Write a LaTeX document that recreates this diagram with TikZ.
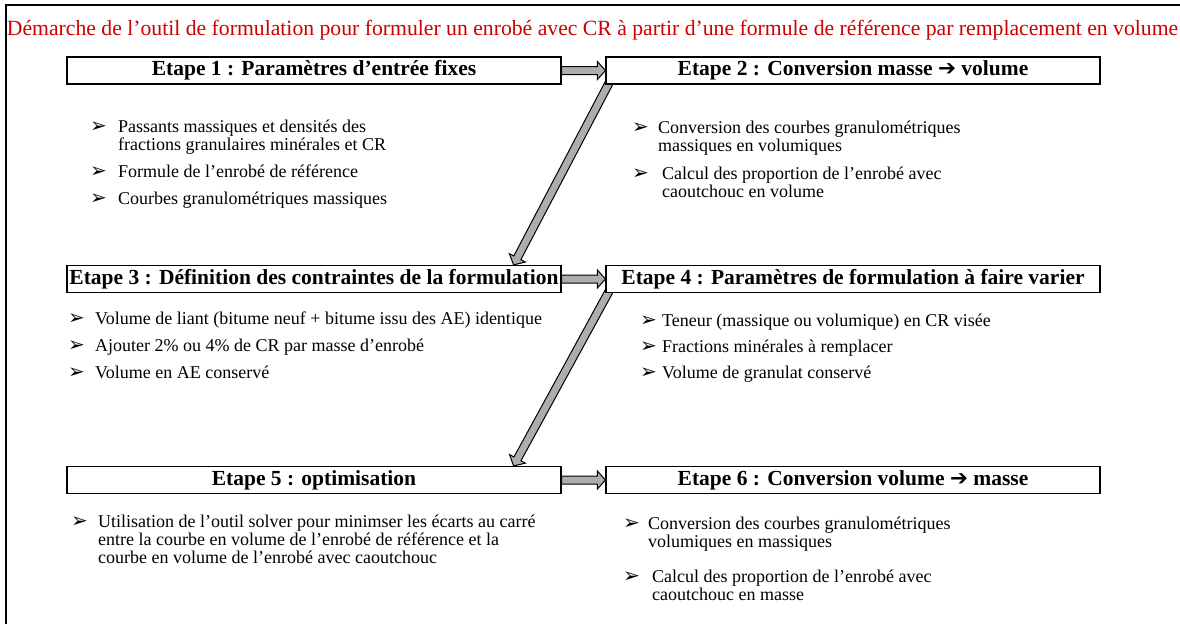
\documentclass[tikz,border=0pt]{standalone}
\usepackage{fontspec}
\setmainfont{Liberation Serif}
\newfontfamily\dejavu{DejaVu Sans}
\usetikzlibrary{calc,backgrounds}
\definecolor{TitreRouge}{HTML}{CC0000}
\definecolor{FlecheGris}{HTML}{ADADAD}

% puce en fleche et retrait des lignes suivantes
\newcommand{\puce}[1][25pt]{\makebox[#1][l]{\dejavu\fontsize{20}{20}\selectfont ➢}}
\newcommand{\retrait}[1][25pt]{\hspace*{#1}}
% fleche pleine grise de #1 vers #2
\newcommand{\flechebloc}[2]{%
  \path (#1) coordinate (fb-s) (#2) coordinate (fb-e)
    ($(fb-e)!8pt!(fb-s)$) coordinate (fb-b);
  \filldraw[fleche] ($(fb-s)!4pt!90:(fb-e)$) -- ($(fb-b)!4pt!-90:(fb-s)$)
    -- ($(fb-b)!9pt!-90:(fb-s)$) -- (fb-e) -- ($(fb-b)!9pt!90:(fb-s)$)
    -- ($(fb-b)!4pt!90:(fb-s)$) -- ($(fb-s)!4pt!-90:(fb-e)$) -- cycle;}

\tikzset{
  etape/.style={draw, line width=1.2pt, fill=white, minimum width=494pt,
    minimum height=27pt, inner sep=0pt, font=\bfseries\fontsize{21.5}{21.5}\selectfont},
  liste/.style={anchor=base west, inner sep=0pt, font=\fontsize{18}{18}\selectfont},
  fleche/.style={fill=FlecheGris, draw=black, line width=1pt, line join=miter},
}

\begin{document}
\begin{tikzpicture}[x=1pt,y=-1pt]
\path[use as bounding box] (0,0) rectangle (1180,624);
\draw[line width=1.2pt] (6,624) -- (6,5) -- (1180,5);
\node[font=\fontsize{21.7}{21.7}\selectfont, text=TitreRouge] (titre) at (592.5,30)
  {Démarche de l’outil de formulation pour formuler un enrobé avec CR à partir d’une formule de référence par remplacement en volume};

% etapes
\node[etape] (etape1) at (314,70.5) {Etape 1 : Paramètres d’entrée fixes};
\node[etape] (etape2) at (853,70.5) {Etape 2 : Conversion masse {\dejavu ➔} volume};
\node[etape] (etape3) at (314,279) {Etape 3 : Définition des contraintes de la formulation};
\node[etape] (etape4) at (853,279) {Etape 4 : Paramètres de formulation à faire varier};
\node[etape] (etape5) at (314,480) {Etape 5 : optimisation};
\node[etape] (etape6) at (853,480) {Etape 6 : Conversion volume {\dejavu ➔} masse};

% fleches
\coordinate (d1s) at ($(etape2.south west)+(7,-8)$);
\coordinate (d1e) at ($(etape3.north east)+(-48,0)$);
\coordinate (d2s) at ($(etape4.south west)+(7,-8)$);
\coordinate (d2e) at ($(etape5.north east)+(-48,0)$);
\begin{scope}[on background layer]
\flechebloc{etape1.east}{etape2.west}
\flechebloc{etape3.east}{etape4.west}
\flechebloc{etape5.east}{etape6.west}
\flechebloc{d1s}{d1e}
\flechebloc{d2s}{d2e}
\end{scope}

% listes
\node[liste] (entrees) at (90,132) {\begin{tabular}[t]{@{}l@{}}
  \puce[28pt]Passants massiques et densités des\\
  \retrait[28pt]fractions granulaires minérales et CR\\[9pt]
  \puce[28pt]Formule de l’enrobé de référence\\[9pt]
  \puce[28pt]Courbes granulométriques massiques\end{tabular}};
\node[liste] (convvol) at (632,133) {\begin{tabular}[t]{@{}l@{}}
  \puce[26pt]Conversion des courbes granulométriques\\
  \retrait[26pt]massiques en volumiques\\[10pt]
  \puce[30pt]Calcul des proportion de l’enrobé avec\\
  \retrait[30pt]caoutchouc en volume\end{tabular}};
\node[liste] (contraintes) at (68,324) {\begin{tabular}[t]{@{}l@{}}
  \puce[27pt]Volume de liant (bitume neuf + bitume issu des AE) identique\\[9pt]
  \puce[27pt]Ajouter 2\% ou 4\% de CR par masse d’enrobé\\[9pt]
  \puce[27pt]Volume en AE conservé\end{tabular}};
\node[liste] (parametres) at (640,326) {\begin{tabular}[t]{@{}l@{}}
  \puce[22pt]Teneur (massique ou volumique) en CR visée\\[8pt]
  \puce[22pt]Fractions minérales  à remplacer\\[8pt]
  \puce[22pt]Volume de granulat conservé\end{tabular}};
\node[liste] (optim) at (71,527) {\begin{tabular}[t]{@{}l@{}}
  \puce[27pt]Utilisation de l’outil solver pour minimser les écarts au carré\\
  \retrait[27pt]entre la courbe en volume de l’enrobé de référence et la\\
  \retrait[27pt]courbe en volume de l’enrobé avec caoutchouc\end{tabular}};
\node[liste] (convmasse) at (623,529) {\begin{tabular}[t]{@{}l@{}}
  \puce[25pt]Conversion des courbes granulométriques\\
  \retrait[25pt]volumiques en massiques\\[17pt]
  \puce[29pt]Calcul des proportion de l’enrobé avec\\
  \retrait[29pt]caoutchouc en masse\end{tabular}};
\end{tikzpicture}
\end{document}
